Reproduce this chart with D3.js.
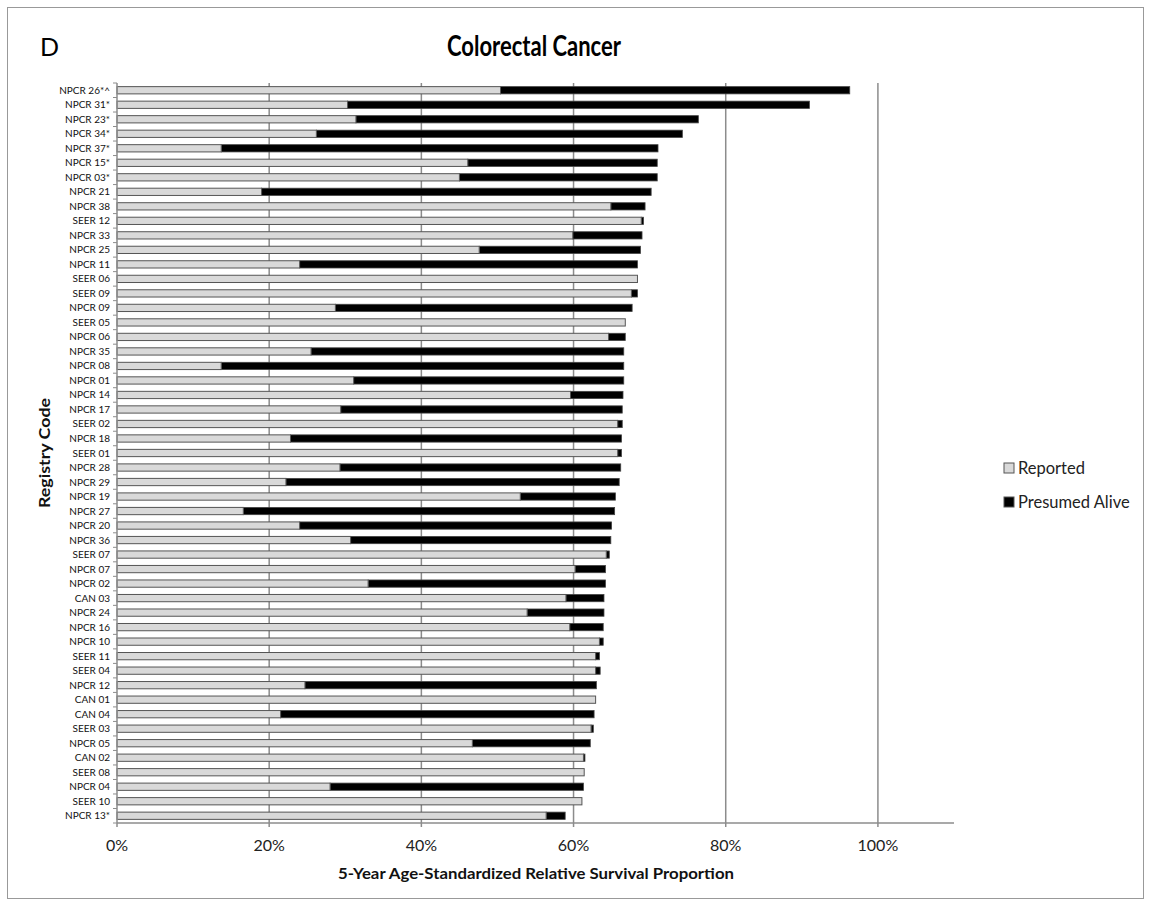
<!DOCTYPE html>
<html><head><meta charset="utf-8">
<script src="https://cdn.jsdelivr.net/npm/d3@7"></script>
<style>body{margin:0;background:#fff}</style>
</head><body>
<svg id="c" width="1150" height="906"></svg>
<script>
const categories = ["NPCR 26*^","NPCR 31*","NPCR 23*","NPCR 34*","NPCR 37*","NPCR 15*","NPCR 03*","NPCR 21","NPCR 38","SEER 12","NPCR 33","NPCR 25","NPCR 11","SEER 06","SEER 09","NPCR 09","SEER 05","NPCR 06","NPCR 35","NPCR 08","NPCR 01","NPCR 14","NPCR 17","SEER 02","NPCR 18","SEER 01","NPCR 28","NPCR 29","NPCR 19","NPCR 27","NPCR 20","NPCR 36","SEER 07","NPCR 07","NPCR 02","CAN 03","NPCR 24","NPCR 16","NPCR 10","SEER 11","SEER 04","NPCR 12","CAN 01","CAN 04","SEER 03","NPCR 05","CAN 02","SEER 08","NPCR 04","SEER 10","NPCR 13*"];
const reported = [50.4,30.3,31.4,26.2,13.7,46.1,45.0,19.0,64.9,68.9,59.9,47.6,24.0,68.4,67.6,28.7,66.8,64.6,25.5,13.7,31.1,59.6,29.4,65.8,22.8,65.8,29.3,22.2,53.0,16.6,24.0,30.7,64.3,60.2,33.0,59.0,53.9,59.5,63.4,62.9,62.9,24.7,62.9,21.5,62.3,46.7,61.3,61.4,28.0,61.1,56.4];
const total = [96.3,91.0,76.4,74.3,71.1,71.0,71.0,70.2,69.4,69.2,69.0,68.8,68.4,68.4,68.4,67.7,66.8,66.8,66.6,66.6,66.6,66.5,66.4,66.4,66.3,66.3,66.2,66.0,65.5,65.4,65.0,64.9,64.7,64.2,64.2,64.0,64.0,63.9,63.9,63.4,63.5,63.0,62.9,62.7,62.6,62.2,61.5,61.4,61.3,61.1,58.9];
const xTicks = [0,20,40,60,80,100];
const seriesNames = ["Reported","Presumed Alive"];

const svg = d3.select("#c");
const font = "Lato, 'Open Sans', sans-serif";
svg.append("rect").attr("x",7.5).attr("y",7.5).attr("width",1136).attr("height",891)
  .attr("fill","#fff").attr("stroke","#999").attr("stroke-width",1);

const L=117, R=954, T=83, B=823;
const x = d3.scaleLinear().domain([0,110]).range([L,R]);
const y = d3.scaleBand().domain(categories).range([T,B]).paddingInner(0.5).paddingOuter(0.25);

const g = svg.append("g");
// gridlines
g.selectAll("line.grid").data(xTicks.filter(d=>d>0)).join("line")
  .attr("x1",d=>x(d)).attr("x2",d=>x(d)).attr("y1",T).attr("y2",B)
  .attr("stroke","#8c8c8c").attr("stroke-width",1.5);

const data = categories.map((c,i)=>({c, r:reported[i], t:total[i]}));
// presumed alive (black) segment
g.selectAll("rect.pa").data(data.filter(d=>d.t>d.r)).join("rect")
  .attr("x",d=>x(d.r)).attr("width",d=>x(d.t)-x(d.r))
  .attr("y",d=>y(d.c)).attr("height",y.bandwidth())
  .attr("fill","#000").attr("stroke","#444").attr("stroke-width",0.8);
// reported (gray)
g.selectAll("rect.rep").data(data).join("rect")
  .attr("x",x(0)).attr("width",d=>x(d.r)-x(0))
  .attr("y",d=>y(d.c)).attr("height",y.bandwidth())
  .attr("fill","#d9d9d9").attr("stroke","#555").attr("stroke-width",1);

// left axis line and ticks at boundaries
g.append("line").attr("x1",L).attr("x2",L).attr("y1",T).attr("y2",B).attr("stroke","#8c8c8c").attr("stroke-width",1.5);
g.selectAll("line.yt").data(d3.range(categories.length+1)).join("line")
  .attr("x1",L-4).attr("x2",L).attr("y1",d=>T+d*(B-T)/categories.length).attr("y2",d=>T+d*(B-T)/categories.length)
  .attr("stroke","#8c8c8c").attr("stroke-width",1);
g.selectAll("text.yl").data(categories).join("text")
  .attr("x",L-7).attr("y",d=>y(d)+y.bandwidth()/2).attr("dy","0.35em")
  .attr("text-anchor","end").attr("font-family",font).attr("font-size",10).attr("fill","#111")
  .text(d=>d);

// bottom axis
g.append("line").attr("x1",L).attr("x2",R).attr("y1",B).attr("y2",B).attr("stroke","#8c8c8c").attr("stroke-width",1.5);
g.selectAll("line.xt").data(xTicks).join("line")
  .attr("x1",d=>x(d)).attr("x2",d=>x(d)).attr("y1",B).attr("y2",B+4).attr("stroke","#8c8c8c").attr("stroke-width",1.5);
g.selectAll("text.xl").data(xTicks).join("text")
  .attr("x",d=>x(d)).attr("y",B+28).attr("text-anchor","middle")
  .attr("font-family",font).attr("font-size",16).attr("fill","#222").text(d=>d+"%");

svg.append("text").attr("x",536).attr("y",879).attr("text-anchor","middle")
  .attr("font-family",font).attr("font-weight","bold").attr("font-size",16).attr("fill","#111")
  .attr("textLength",396).attr("lengthAdjust","spacingAndGlyphs")
  .text("5-Year Age-Standardized Relative Survival Proportion");
svg.append("text").attr("transform","translate(50,453) rotate(-90)").attr("text-anchor","middle")
  .attr("font-family",font).attr("font-weight","bold").attr("font-size",16).attr("fill","#111")
  .attr("textLength",110).attr("lengthAdjust","spacingAndGlyphs")
  .text("Registry Code");
svg.append("text").attr("x",534).attr("y",56).attr("text-anchor","middle")
  .attr("font-family",font).attr("font-weight","bold").attr("font-size",28).attr("fill","#000")
  .attr("textLength",174).attr("lengthAdjust","spacingAndGlyphs")
  .text("Colorectal Cancer");
svg.append("text").attr("x",40).attr("y",56).attr("font-family",font).attr("font-size",25).attr("fill","#000").text("D");

// legend
const leg = svg.append("g");
const legColors = ["#d9d9d9","#000"];
seriesNames.forEach((s,i)=>{
  const yy = 468 + i*34;
  leg.append("rect").attr("x",1004).attr("y",yy-5).attr("width",10).attr("height",10)
    .attr("fill",legColors[i]).attr("stroke","#555").attr("stroke-width",1);
  leg.append("text").attr("x",1018).attr("y",yy).attr("dy","0.35em")
    .attr("font-family",font).attr("font-size",16.5).attr("fill","#222").text(s);
});
</script>
</body></html>
